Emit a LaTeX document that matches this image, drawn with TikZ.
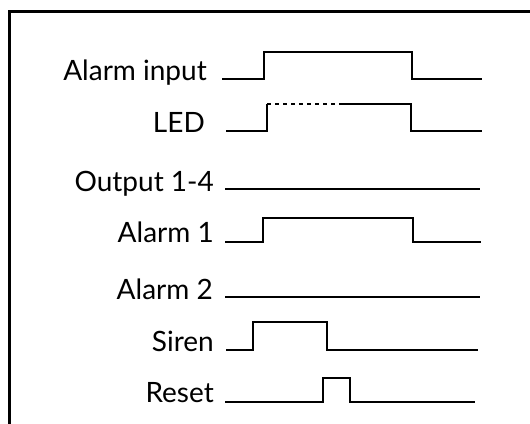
\documentclass[tikz,border=0pt]{standalone}
\usepackage{fontspec}
\setmainfont{Lato}

\begin{document}
\begin{tikzpicture}[x=1pt,y=-1pt,
  wave/.style={line width=2.6pt,line join=miter},
  lbl/.style={anchor=base east,inner sep=0pt,font=\fontsize{28}{32}\selectfont}]
\useasboundingbox (0,0) rectangle (530,423);
\draw[line width=3pt] (9.5,440) -- (9.5,11) -- (550,11);
% signal names
\foreach \name/\txt/\x/\y in {ain/Alarm input/207/80, led/LED/205/132,
  outp/Output 1-4/214/191, alone/Alarm 1/214/242, altwo/Alarm 2/213/299,
  siren/Siren/214/351, reset/Reset/214/402}
{
	\node[lbl] (\name) at (\x,\y) {\txt};
}
% traces
\draw[wave] (222,79) -- (264,79) -- (264,52) -- (412,52) -- (412,79) -- (482,79);
\draw[wave] (226,131) -- (267,131) -- (267,104);
\draw[wave,dash pattern=on 4pt off 4pt] (267,104) -- (343,104);
\draw[wave] (343,104) -- (411,104) -- (411,131) -- (482,131);
\draw[wave] (225,189) -- (480,189);
\draw[wave] (225,242) -- (263,242) -- (263,218) -- (413,218) -- (413,242) -- (481,242);
\draw[wave] (225,297) -- (480,297);
\draw[wave] (226,350) -- (253,350) -- (253,322) -- (327,322) -- (327,350) -- (478,350);
\draw[wave] (225,402) -- (323,402) -- (323,378) -- (350,378) -- (350,402) -- (475,402);
\end{tikzpicture}
\end{document}
